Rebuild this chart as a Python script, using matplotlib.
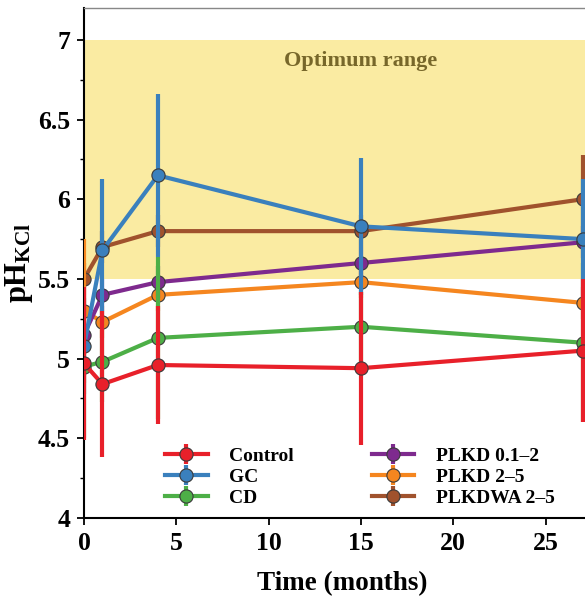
import matplotlib
matplotlib.use("Agg")
import matplotlib.pyplot as plt
from matplotlib.ticker import MultipleLocator, FixedLocator

plt.rcParams['font.family'] = ['Liberation Serif', 'DejaVu Serif']
plt.rcParams['font.weight'] = 'bold'
plt.rcParams['mathtext.fontset'] = 'custom'
plt.rcParams['mathtext.rm'] = 'Liberation Serif:bold'
plt.rcParams['mathtext.it'] = 'Liberation Serif:bold'
plt.rcParams['mathtext.bf'] = 'Liberation Serif:bold'

# Sampling times (months)
months = [0, 1, 4, 15, 27]

# Mean pH(KCl) per treatment and standard deviations
series_names = ["Control", "GC", "CD", "PLKD 0.1\u20132", "PLKD 2\u20135", "PLKDWA 2\u20135"]
control = [4.97, 4.84, 4.96, 4.94, 5.05]
control_sd = [0.48, 0.46, 0.37, 0.48, 0.45]
gc = [5.08, 5.68, 6.15, 5.83, 5.75]
gc_sd = [0.30, 0.45, 0.51, 0.43, 0.38]
cd = [4.95, 4.98, 5.13, 5.20, 5.10]
cd_sd = [0.45, 0.25, 0.51, 0.22, 0.50]
plkd_01_2 = [5.15, 5.40, 5.48, 5.60, 5.73]
plkd_01_2_sd = [0.10, 0.10, 0.10, 0.10, 0.10]
plkd_2_5 = [5.30, 5.23, 5.40, 5.48, 5.35]
plkd_2_5_sd = [0.45, 0.10, 0.10, 0.10, 0.10]
plkdwa_2_5 = [5.50, 5.70, 5.80, 5.80, 6.00]
plkdwa_2_5_sd = [0.10, 0.10, 0.10, 0.10, 0.28]

optimum_low, optimum_high = 5.5, 7.0
y_ticks = [4, 4.5, 5, 5.5, 6, 6.5, 7]
y_tick_labels = ["4", "4.5", "5", "5.5", "6", "6.5", "7"]
x_ticks = [0, 5, 10, 15, 20, 25]

means = [control, gc, cd, plkd_01_2, plkd_2_5, plkdwa_2_5]
sds = [control_sd, gc_sd, cd_sd, plkd_01_2_sd, plkd_2_5_sd, plkdwa_2_5_sd]
colors = ["#E8202A", "#3A80BD", "#4DAF47", "#7E2A8E", "#F5861F", "#A0522D"]
zorders = [8, 7, 6, 5, 4, 3]

fig = plt.figure(figsize=(5.85, 5.96), dpi=100)
ax = fig.add_axes([84 / 585, 78 / 596, 517 / 585, 510 / 596])

ax.axhspan(optimum_low, optimum_high, color="#FAEBA2", zorder=0, lw=0)
ax.text(15, 6.87, "Optimum range", ha="center", va="center",
        fontsize=16, fontweight="bold", color="#77672A", zorder=1)

handles = []
for name, m, s, c, z in zip(series_names, means, sds, colors, zorders):
    h = ax.errorbar(months, m, yerr=s, color=c, lw=3, elinewidth=3, capsize=0,
                    marker="o", markersize=9.5, markerfacecolor=c,
                    markeredgecolor="#3a3a3a", markeredgewidth=0.8,
                    label=name, zorder=z)
    handles.append(h)

ax.set_xlim(0, 28)
ax.set_ylim(4, 7.2)
ax.xaxis.set_major_locator(FixedLocator(x_ticks))
ax.yaxis.set_major_locator(FixedLocator(y_ticks))
ax.set_yticklabels(y_tick_labels)
ax.yaxis.set_minor_locator(MultipleLocator(0.25))
ax.tick_params(axis="both", which="major", direction="out", length=5, width=1.3,
               labelsize=18.5, pad=5)
ax.tick_params(axis="y", which="minor", direction="out", length=3, width=1.0)
for lab in ax.get_xticklabels() + ax.get_yticklabels():
    lab.set_fontweight("bold")

ax.spines["left"].set_linewidth(1.5)
ax.spines["bottom"].set_linewidth(1.5)
ax.spines["top"].set_linewidth(1.0)
ax.spines["top"].set_color("#888888")
ax.spines["right"].set_visible(False)

ax.set_xlabel("Time (months)", fontsize=19.5, fontweight="bold", labelpad=12)
ax.set_ylabel(r"pH$_{\mathrm{KCl}}$", fontsize=22, fontweight="bold", labelpad=2)

leg = ax.legend(handles=handles, labels=series_names, ncol=2, loc="lower left",
                bbox_to_anchor=(0.13, -0.005), frameon=False,
                prop={"weight": "bold", "size": 14}, handlelength=2.2,
                handletextpad=1.1, columnspacing=4.0, labelspacing=0.18,
                borderaxespad=0.3)

fig.savefig("out.png", dpi=100)
